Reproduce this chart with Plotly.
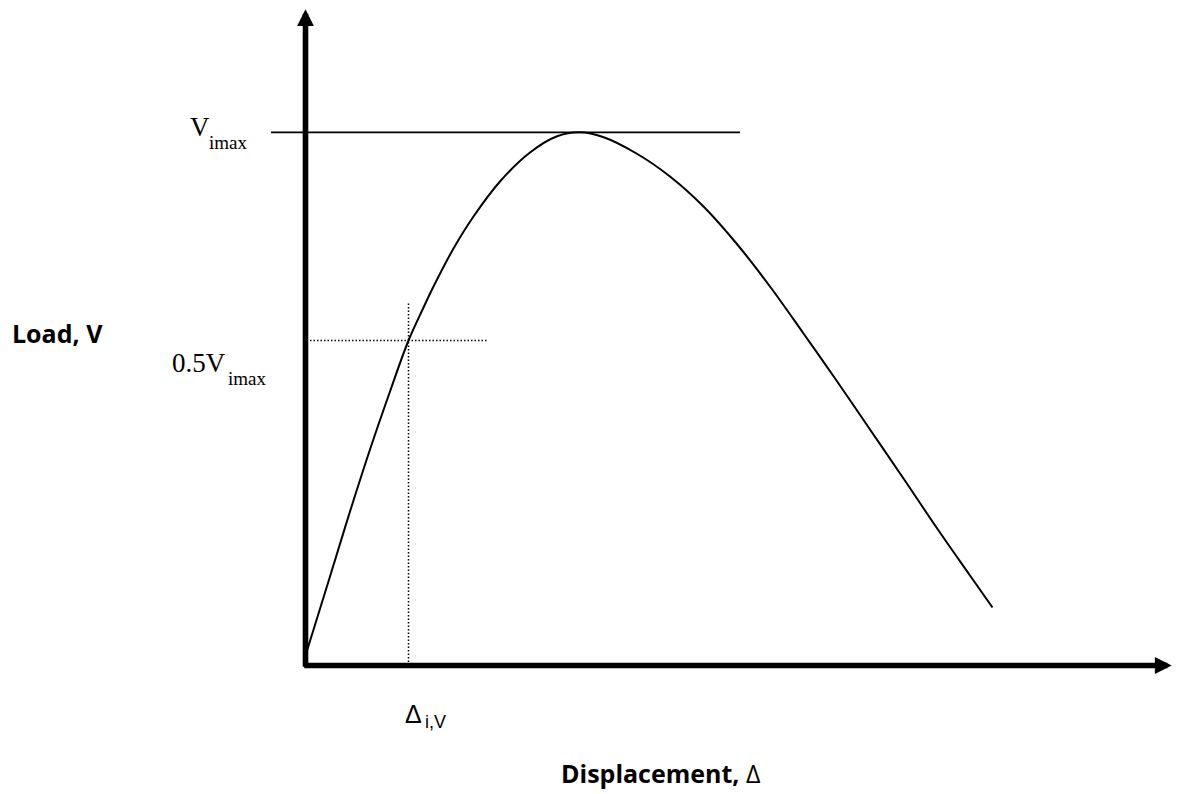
import plotly.graph_objects as go

# Load-displacement curve (arbitrary units; origin at axes corner)
displacement = [0.0, 0.245, 0.445, 0.645, 0.845, 1.03, 1.18, 1.28, 1.48, 1.68, 1.945,
                2.245, 2.51, 2.745, 2.975, 3.31, 3.645, 3.98, 4.31, 4.645, 4.98, 5.31,
                5.645, 5.98, 6.31, 6.645, 6.87]
load = [0.1, 0.89, 1.54, 2.16, 2.74, 3.25, 3.58, 3.79, 4.17, 4.49, 4.84,
        5.13, 5.29, 5.332, 5.285, 5.12, 4.89, 4.59, 4.22, 3.79, 3.32, 2.85,
        2.36, 1.87, 1.38, 0.9, 0.58]

v_max = 5.332            # peak load level
v_half = 3.25            # "0.5 Vimax" marker level
delta_iv = 1.03          # displacement at the marker level
vmax_line_x = [-0.345, 4.345]
half_line_x = [-0.025, 1.825]
delta_line_top = 3.628

x_axis_end = 8.662
y_axis_end = 6.562
axis_tail = -0.028

X_RANGE = [-3.055, 8.715]
Y_RANGE = [-1.285, 6.655]

serif = "Liberation Serif, Times New Roman, serif"
sans = "Liberation Sans, Arial, sans-serif"
bold_sans = "Open Sans, sans-serif"

fig = go.Figure()

# Vmax horizontal reference line
fig.add_trace(go.Scatter(x=vmax_line_x, y=[v_max, v_max], mode="lines",
                         line=dict(color="black", width=1.8), hoverinfo="skip"))
# dotted guides
fig.add_trace(go.Scatter(x=half_line_x, y=[v_half, v_half], mode="lines",
                         line=dict(color="black", width=1.5, dash="1.5px,2px"), hoverinfo="skip"))
fig.add_trace(go.Scatter(x=[delta_iv, delta_iv], y=[0, delta_line_top], mode="lines",
                         line=dict(color="black", width=1.5, dash="1.5px,2px"), hoverinfo="skip"))
# main curve
fig.add_trace(go.Scatter(x=displacement, y=load, mode="lines",
                         line=dict(color="black", width=2, shape="spline", smoothing=1.0),
                         hoverinfo="skip"))

annotations = []
# axes arrows
annotations.append(dict(x=x_axis_end, y=0, ax=axis_tail, ay=0, xref="x", yref="y",
                        axref="x", ayref="y", text="", showarrow=True, arrowhead=2,
                        arrowsize=0.6, arrowwidth=5.6, arrowcolor="black", standoff=0))
annotations.append(dict(x=0, y=y_axis_end, ax=0, ay=axis_tail, xref="x", yref="y",
                        axref="x", ayref="y", text="", showarrow=True, arrowhead=2,
                        arrowsize=0.6, arrowwidth=5.6, arrowcolor="black", standoff=0))

def label(x, y, text, family, size):
    annotations.append(dict(x=x, y=y, xref="x", yref="y", text=text, showarrow=False,
                            xanchor="left", yanchor="middle",
                            font=dict(family=family, size=size, color="black")))

label(-1.175, 5.39, "V", serif, 27)
label(-0.985, 5.231, "imax", serif, 19)
label(-1.358, 3.03, "0.5V", serif, 27)
label(-0.795, 2.871, "imax", serif, 19)
label(0.975, -0.48, "Δ", sans, 25)
label(1.17, -0.56, "i,V", sans, 18)
label(-2.955, 3.322, "<b>Load, V</b>", bold_sans, 25)
label(2.535, -1.078, "<b>Displacement,</b> Δ", bold_sans, 25)

fig.update_layout(
    width=1177, height=794, autosize=False,
    margin=dict(l=0, r=0, t=0, b=0),
    paper_bgcolor="white", plot_bgcolor="white",
    showlegend=False,
    xaxis=dict(range=X_RANGE, visible=False, fixedrange=True),
    yaxis=dict(range=Y_RANGE, visible=False, fixedrange=True),
    annotations=annotations,
)

fig.write_html("out.html", config={"displayModeBar": False},
               post_script="document.body.style.margin='0';document.body.style.overflow='hidden';")
